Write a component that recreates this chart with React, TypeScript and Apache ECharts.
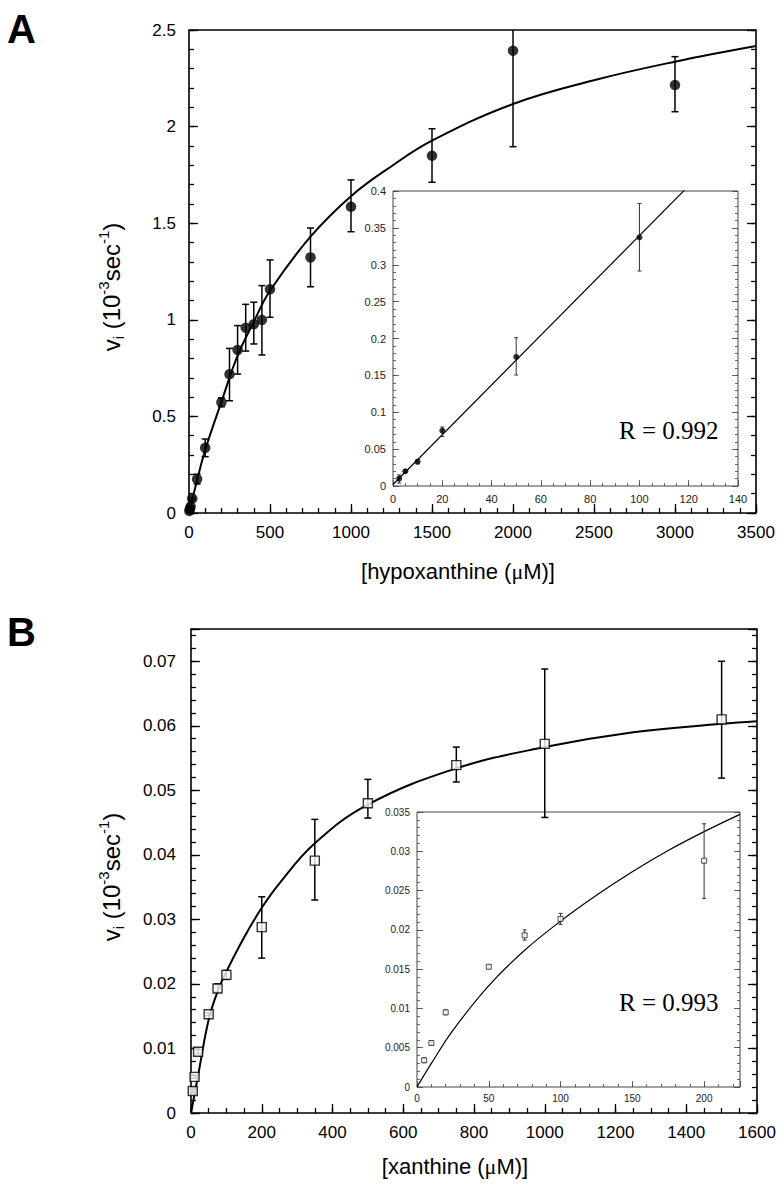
import React, { useEffect, useRef } from 'react';
import * as echarts from 'echarts';

// ---------- Panel A: hypoxanthine ----------
const hxConc = [2.5, 5, 10, 20, 50, 100, 200, 250, 300, 350, 400, 450, 500, 750, 1000, 1500, 2000, 3000];
const hxRate = [0.01, 0.02, 0.033, 0.075, 0.175, 0.337, 0.573, 0.718, 0.844, 0.959, 0.977, 0.999, 1.158, 1.323, 1.585, 1.849, 2.393, 2.215];
const hxLow = [0.004, 0.018, 0.03, 0.067, 0.1505, 0.2915, 0.55, 0.581, 0.719, 0.838, 0.875, 0.818, 1.013, 1.171, 1.456, 1.712, 1.896, 2.077];
const hxHigh = [0.015, 0.022, 0.036, 0.08, 0.201, 0.383, 0.596, 0.852, 0.97, 1.08, 1.091, 1.177, 1.31, 1.475, 1.724, 1.989, 2.89, 2.362];
const hxFitX = [0, 50, 100, 200, 300, 400, 500, 750, 1000, 1250, 1500, 2000, 2500, 3000, 3500];
const hxFitY = [0, 0.17, 0.326, 0.575, 0.815, 0.99, 1.15, 1.43, 1.64, 1.795, 1.927, 2.117, 2.24, 2.336, 2.417];
const hxInsetMax = 140;
const hxLinX = [0, 140];
const hxLinY = [0.002, 0.4745];
const hxR = 'R = 0.992';

// ---------- Panel B: xanthine ----------
const xaConc = [5, 10, 20, 50, 75, 100, 200, 350, 500, 750, 1000, 1500];
const xaRate = [0.0034, 0.0056, 0.0095, 0.0153, 0.0193, 0.0214, 0.0288, 0.0391, 0.048, 0.0539, 0.0572, 0.061];
const xaLow = [0.0031, 0.0054, 0.0092, 0.0151, 0.0187, 0.0207, 0.024, 0.033, 0.0457, 0.0513, 0.0458, 0.0519];
const xaHigh = [0.0037, 0.0058, 0.0098, 0.0155, 0.02, 0.0221, 0.0335, 0.0455, 0.0517, 0.0567, 0.0688, 0.07];
const xaFitX = [0, 20, 50, 75, 100, 150, 200, 250, 350, 500, 750, 1000, 1250, 1500, 1600];
const xaFitY = [0, 0.0058, 0.0145, 0.0188, 0.0219, 0.0272, 0.0318, 0.0356, 0.0418, 0.0478, 0.0534, 0.0567, 0.059, 0.0603, 0.0607];
const xaInsetFitX = [0, 10, 25, 50, 75, 100, 125, 150, 175, 200, 225];
const xaInsetFitY = [0, 0.003, 0.0072, 0.0129, 0.0174, 0.0211, 0.0244, 0.0274, 0.0301, 0.0325, 0.0347];
const xaR = 'R = 0.993';

const SANS = '"Liberation Sans", Arial, Helvetica, sans-serif';
const SERIF = '"Liberation Serif", "Times New Roman", serif';

const fmt = (v: number) => String(parseFloat(v.toFixed(6)));

export default function App() {
  const ref = useRef<HTMLDivElement>(null);
  useEffect(() => {
    if (!ref.current) return;
    const chart = echarts.init(ref.current, null, { renderer: 'svg' });

    const grids: any[] = [];
    const xAxes: any[] = [];
    const yAxes: any[] = [];
    const series: any[] = [];

    type P = {
      rect: [number, number, number, number];
      x: [number, number, number, number]; // min,max,major,minor
      y: [number, number, number, number];
      xLabelMax?: number;
      yLabelMax?: number;
      majLen: number; minLen: number;
      labelSize: number; xMargin: number; yMargin: number;
      color: string; lineColor: string; lineWidth: number; tickWidth: number;
    };

    const addPanel = (p: P) => {
      const gi = grids.length;
      grids.push({
        left: p.rect[0], top: p.rect[1], width: p.rect[2], height: p.rect[3],
        show: true, borderColor: p.lineColor, borderWidth: p.lineWidth, backgroundColor: 'transparent',
      });
      const tick = (len: number) => ({ show: true, inside: true, length: len, lineStyle: { color: p.lineColor, width: p.tickWidth } });
      const base = (min: number, max: number, interval: number) => ({
        type: 'value', gridIndex: gi, min, max, interval,
        axisLine: { show: false, onZero: false }, splitLine: { show: false },
      });
      const xi = xAxes.length;
      xAxes.push({
        ...base(p.x[0], p.x[1], p.x[2]), position: 'bottom', axisTick: tick(p.majLen),
        axisLabel: {
          show: true, fontSize: p.labelSize, color: p.color, fontFamily: SANS, margin: p.xMargin,
          formatter: (v: number) => (p.xLabelMax !== undefined && v > p.xLabelMax ? '' : fmt(v)),
        },
      });
      xAxes.push({ ...base(p.x[0], p.x[1], p.x[3]), position: 'bottom', axisTick: tick(p.minLen), axisLabel: { show: false } });
      const yi = yAxes.length;
      yAxes.push({
        ...base(p.y[0], p.y[1], p.y[2]), position: 'left', axisTick: tick(p.majLen),
        axisLabel: {
          show: true, fontSize: p.labelSize, color: p.color, fontFamily: SANS, margin: p.yMargin,
          formatter: (v: number) => (p.yLabelMax !== undefined && v > p.yLabelMax ? '' : fmt(v)),
        },
      });
      yAxes.push({ ...base(p.y[0], p.y[1], p.y[3]), position: 'left', axisTick: tick(p.minLen), axisLabel: { show: false } });
      yAxes.push({ ...base(p.y[0], p.y[1], p.y[2]), position: 'right', axisTick: tick(p.majLen), axisLabel: { show: false } });
      yAxes.push({ ...base(p.y[0], p.y[1], p.y[3]), position: 'right', axisTick: tick(p.minLen), axisLabel: { show: false } });
      return { xi, yi };
    };

    const errRender = (half: number, lw: number, color: string) => (params: any, api: any) => {
      const x = api.value(0), lo = api.value(1), hi = api.value(2);
      const pL = api.coord([x, lo]);
      const pH = api.coord([x, hi]);
      const cs = params.coordSys;
      const top = Math.max(pH[1], cs.y);
      const bot = Math.min(pL[1], cs.y + cs.height);
      const st = { stroke: color, lineWidth: lw };
      const children: any[] = [{ type: 'line', shape: { x1: pL[0], y1: top, x2: pL[0], y2: bot }, style: st }];
      if (pH[1] >= cs.y) children.push({ type: 'line', shape: { x1: pL[0] - half, y1: pH[1], x2: pL[0] + half, y2: pH[1] }, style: st });
      if (pL[1] <= cs.y + cs.height) children.push({ type: 'line', shape: { x1: pL[0] - half, y1: pL[1], x2: pL[0] + half, y2: pL[1] }, style: st });
      return { type: 'group', children };
    };

    const zip2 = (a: number[], b: number[]) => a.map((v, i) => [v, b[i]]);
    const zip3 = (a: number[], b: number[], c: number[]) => a.map((v, i) => [v, b[i], c[i]]);

    // ---- A main
    const A = addPanel({
      rect: [189, 30, 567, 483], x: [0, 3500, 500, 100], y: [0, 2.5, 0.5, 0.1],
      majLen: 9, minLen: 5, labelSize: 17, xMargin: 11, yMargin: 13,
      color: '#000', lineColor: '#000', lineWidth: 1.6, tickWidth: 1.3,
    });
    series.push({
      type: 'line', xAxisIndex: A.xi, yAxisIndex: A.yi, data: zip2(hxFitX, hxFitY), smooth: 0.4,
      showSymbol: false, lineStyle: { color: '#000', width: 2 }, z: 2, silent: true,
    });
    series.push({
      type: 'custom', xAxisIndex: A.xi, yAxisIndex: A.yi, data: zip3(hxConc, hxLow, hxHigh),
      encode: { x: 0, y: [1, 2] }, renderItem: errRender(3.5, 1.5, '#000'), z: 3, silent: true,
    });
    series.push({
      type: 'scatter', xAxisIndex: A.xi, yAxisIndex: A.yi, data: zip2(hxConc, hxRate),
      symbol: 'circle', symbolSize: 10.5, itemStyle: { color: '#000' }, z: 4, silent: true,
    });

    // ---- A inset
    const AI = addPanel({
      rect: [393, 191, 345, 295], x: [0, hxInsetMax, 20, 5], y: [0, 0.4, 0.05, 0.01],
      majLen: 6, minLen: 3, labelSize: 11, xMargin: 7, yMargin: 7,
      color: '#222', lineColor: '#444', lineWidth: 1, tickWidth: 0.8,
    });
    series.push({
      type: 'line', xAxisIndex: AI.xi, yAxisIndex: AI.yi, data: zip2(hxLinX, hxLinY),
      showSymbol: false, lineStyle: { color: '#000', width: 1.2 }, z: 5, silent: true,
    });
    series.push({
      type: 'custom', xAxisIndex: AI.xi, yAxisIndex: AI.yi,
      data: zip3(hxConc, hxLow, hxHigh).filter((d) => d[0] <= hxInsetMax),
      encode: { x: 0, y: [1, 2] }, renderItem: errRender(2, 1, '#333'), z: 6, silent: true,
    });
    series.push({
      type: 'scatter', xAxisIndex: AI.xi, yAxisIndex: AI.yi,
      data: zip2(hxConc, hxRate).filter((d) => d[0] <= hxInsetMax),
      symbol: 'circle', symbolSize: 6, itemStyle: { color: '#000' }, z: 7, silent: true,
    });

    // ---- B main
    const B = addPanel({
      rect: [191, 629, 566, 484], x: [0, 1600, 200, 50], y: [0, 0.075, 0.01, 0.002], yLabelMax: 0.071,
      majLen: 9, minLen: 5, labelSize: 17, xMargin: 11, yMargin: 15,
      color: '#000', lineColor: '#000', lineWidth: 1.6, tickWidth: 1.3,
    });
    series.push({
      type: 'line', xAxisIndex: B.xi, yAxisIndex: B.yi, data: zip2(xaFitX, xaFitY), smooth: 0.4,
      showSymbol: false, lineStyle: { color: '#000', width: 2 }, z: 2, silent: true,
    });
    series.push({
      type: 'custom', xAxisIndex: B.xi, yAxisIndex: B.yi, data: zip3(xaConc, xaLow, xaHigh),
      encode: { x: 0, y: [1, 2] }, renderItem: errRender(3.5, 1.5, '#000'), z: 3, silent: true,
    });
    series.push({
      type: 'scatter', xAxisIndex: B.xi, yAxisIndex: B.yi, data: zip2(xaConc, xaRate),
      symbol: 'rect', symbolSize: 9, itemStyle: { color: '#fff', borderColor: '#000', borderWidth: 1.4 }, z: 4, silent: true,
    });

    // ---- B inset
    const BI = addPanel({
      rect: [417, 812, 323, 275], x: [0, 225, 50, 10], y: [0, 0.035, 0.005, 0.001], xLabelMax: 220,
      majLen: 6, minLen: 3, labelSize: 10, xMargin: 6, yMargin: 7,
      color: '#222', lineColor: '#444', lineWidth: 1, tickWidth: 0.8,
    });
    series.push({
      type: 'line', xAxisIndex: BI.xi, yAxisIndex: BI.yi, data: zip2(xaInsetFitX, xaInsetFitY), smooth: 0.4,
      showSymbol: false, lineStyle: { color: '#000', width: 1.2 }, z: 5, silent: true,
    });
    series.push({
      type: 'custom', xAxisIndex: BI.xi, yAxisIndex: BI.yi,
      data: zip3(xaConc, xaLow, xaHigh).filter((d) => d[0] <= 225),
      encode: { x: 0, y: [1, 2] }, renderItem: errRender(2, 1, '#333'), z: 6, silent: true,
    });
    series.push({
      type: 'scatter', xAxisIndex: BI.xi, yAxisIndex: BI.yi,
      data: zip2(xaConc, xaRate).filter((d) => d[0] <= 225),
      symbol: 'rect', symbolSize: 5, itemStyle: { color: '#fff', borderColor: '#222', borderWidth: 1 }, z: 7, silent: true,
    });

    const yLabelRich = {
      n: { fontSize: 24, fontFamily: SANS, lineHeight: 30, color: '#000' },
      sup: { fontSize: 15, fontFamily: SANS, lineHeight: 17, verticalAlign: 'top', color: '#000' },
      sub: { fontSize: 15, fontFamily: SANS, lineHeight: 17, verticalAlign: 'bottom', color: '#000' },
    };
    const yLabelText = '{n|v}{sub|i}{n| (10}{sup|-3}{n|sec}{sup|-1}{n|)}';
    const xTitleRich = {
      n: { fontSize: 22, fontFamily: SANS, color: '#000' },
      mu: { fontSize: 22, fontFamily: SERIF, color: '#000' },
    };

    const graphic: any[] = [
      { type: 'text', x: 7, y: 29, style: { text: 'A', font: `bold 40px ${SANS}`, fill: '#000', verticalAlign: 'middle' } },
      { type: 'text', x: 7, y: 632, style: { text: 'B', font: `bold 40px ${SANS}`, fill: '#000', verticalAlign: 'middle' } },
      { type: 'text', x: 111, y: 287, rotation: Math.PI / 2, style: { text: yLabelText, rich: yLabelRich, align: 'center', verticalAlign: 'middle' } },
      { type: 'text', x: 111, y: 877, rotation: Math.PI / 2, style: { text: yLabelText, rich: yLabelRich, align: 'center', verticalAlign: 'middle' } },
      { type: 'text', x: 458, y: 571, style: { text: '{n|[hypoxanthine (}{mu|μ}{n|M)]}', rich: xTitleRich, align: 'center', verticalAlign: 'middle' } },
      { type: 'text', x: 455, y: 1166, style: { text: '{n|[xanthine (}{mu|μ}{n|M)]}', rich: xTitleRich, align: 'center', verticalAlign: 'middle' } },
      { type: 'text', x: 619, y: 430, style: { text: hxR, font: `25px ${SERIF}`, fill: '#000', verticalAlign: 'middle' } },
      { type: 'text', x: 619, y: 1002, style: { text: xaR, font: `25px ${SERIF}`, fill: '#000', verticalAlign: 'middle' } },
    ];

    chart.setOption({
      animation: false,
      backgroundColor: '#fff',
      textStyle: { fontFamily: SANS },
      grid: grids,
      xAxis: xAxes,
      yAxis: yAxes,
      series,
      graphic,
    });
    return () => chart.dispose();
  }, []);

  return <div ref={ref} style={{ position: 'absolute', left: 0, top: 0, width: 784, height: 1190 }} />;
}
